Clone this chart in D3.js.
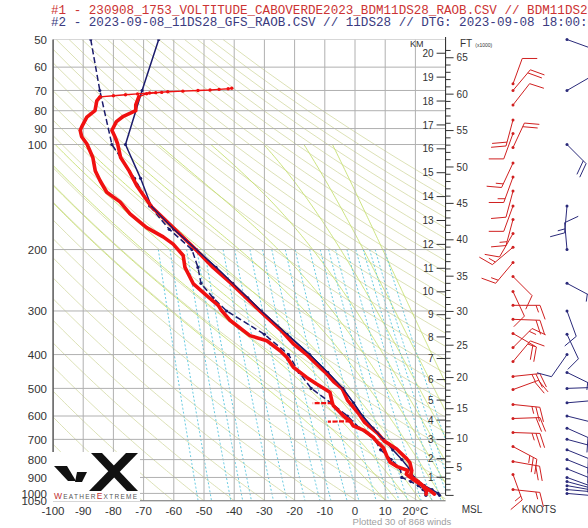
<!DOCTYPE html>
<html lang="en">
<head>
<meta charset="UTF-8">
<title>Sounding</title>
<script src="https://cdnjs.cloudflare.com/ajax/libs/d3/7.8.5/d3.min.js"></script>
<style>
  body { margin: 0; background: #fff; }
  svg text { font-family: "Liberation Sans", Arial, sans-serif; }
</style>
</head>
<body>
<div id="chart"></div>
<script>
// ---- axis values
const pressureTicks = [50, 60, 70, 80, 90, 100, 200, 300, 400, 500, 600, 700, 800, 900, 1000, 1050];
const tempTicks = [-100, -90, -80, -70, -60, -50, -40, -30, -20, -10, 0, 10, 20];
const kmTicks = d3.range(1, 21);
const ftTicks = [5, 10, 15, 20, 25, 30, 35, 40, 45, 50, 55, 60, 65];

// ---- background line families
const dryThetas = d3.range(170, 550, 10);          // K
const moistThetaW = d3.range(8, 52, 4);            // deg C at 1000 hPa
const mixRatios = [0.03, 0.05, 0.1, 0.15, 0.2, 0.4, 0.6, 1, 1.5, 2, 3, 4, 6, 8, 10, 12, 16, 20, 24, 28, 32, 40];

// ---- sounding #1 (observed), [hPa, degC]
const obsTemp = [[1005, 26.3], [990, 25.4], [952, 22.6], [918, 20.4], [898, 18.8], [880, 18.5], [860, 18.8],
  [818, 18.2], [795, 17.1], [762, 14.9], [746, 13.8], [707, 9.6], [674, 7.6], [626, 3.2], [590, 1.2],
  [567, -0.5], [540, -2.5], [502, -4.2], [478, -7.1], [450, -9.8], [420, -13.5], [400, -16], [372, -20.5],
  [341, -24.5], [300, -31.5], [270, -37], [250, -41], [225, -47], [197, -53.5], [173, -60.2], [151, -67.3],
  [140, -70], [131, -72.3], [119, -74.8], [109, -77.6], [99.5, -78.6], [95, -79.5], [91, -80.5], [86, -79],
  [83, -76.7], [80, -72.6], [77, -72.6], [73, -71.6]];
const obsTempTail = [[73, -71.6], [71.5, -69], [71, -66], [70.6, -62], [70.3, -57], [70, -52], [69.8, -48],
  [69.5, -45], [69.2, -42], [69, -40.8]];
const obsDew = [[1005, 23.5], [985, 23.7], [950, 22.3], [939, 21.5], [915, 19.5], [898, 18.2], [880, 17],
  [860, 17.5], [838, 14], [814, 11.6], [780, 10.5], [740, 9.4], [707, 7], [690, 6], [660, 3], [640, -0.6],
  [622, -1.5], [599, -3.9], [560, -7.2], [550, -7.5],
  [513, -8.3], [486, -12.7], [465, -16], [435, -20.4], [407, -22.6], [390, -24.8], [365, -29.2],
  [353, -34.8], [319, -41.4], [299, -44.2], [289, -45.3], [271, -49.1], [251, -53.5], [225, -56.3],
  [208, -56.9], [193, -60.2], [184, -63.5], [173, -69], [158, -74.5], [146, -77.8], [137, -82.2],
  [127, -84.4], [119, -86], [109, -86.8], [99.5, -88.8], [95, -90.5], [91, -91], [89, -90.5],
  [83.5, -88.8], [80, -86.1], [75, -85.5], [73, -84.4]];
const obsDewTail = [[73, -84.4], [72.5, -80], [72, -76], [71.6, -72], [71.2, -68], [70.9, -64]];
const obsDewSpikes = [[[551, -7.4], [551, -10], [551.5, -14]], [[622, -1.5], [622, -5], [622.5, -9]]];

// ---- sounding #2 (GFS)
const gfsLevels = [50, 70, 100, 125, 150, 175, 200, 225, 250, 275, 300, 350, 400, 450, 500, 550, 600, 650,
  700, 750, 800, 850, 900, 925, 950, 975, 1000, 1013];
const gfsTemp = [-65, -70.5, -76, -71, -67.5, -60, -52.5, -46, -40.5, -35.5, -31, -22.5, -15, -9, -4, -0.5,
  2.5, 6, 9.5, 12.5, 15.5, 18, 19.5, 21, 23, 25.5, 27.5, 28];
const gfsDew = [-87.5, -84.5, -80.5, -73, -68, -61.5, -54, -52, -51, -47, -42.5, -30, -22, -18.5, -14.5,
  -8, -2.5, 1.5, 6.5, 8.5, 12, 15, 15.5, 18.5, 21, 22.5, 23.5, 23.5];

// ---- winds
const obsWindP = [67, 70, 77, 85, 93, 102, 113, 124, 136, 150, 164, 180, 197, 218, 239, 264, 289, 317, 348,
  382, 419, 462, 504, 556, 610, 669, 734, 810, 883, 975];
const obsWindDir = [20, 40, 38, 195, 200, 25, 205, 200, 195, 200, 195, 210, 230, 220, 135, 155, 90, 92, 120,
  45, 40, 84, 70, 96, 88, 92, 118, 100, 160, 96];
const obsWindSpd = [10, 20, 10, 20, 10, 20, 15, 15, 10, 10, 15, 10, 15, 15, 10, 10, 15, 20, 20, 15, 15, 25,
  20, 25, 20, 25, 25, 20, 15, 15];
const gfsWindP = [50, 70, 100, 150, 200, 250, 300, 350, 400, 450, 500, 550, 600, 650, 700, 750, 800, 850,
  900, 925, 950, 975, 1000];
const gfsWindDir = [110, 60, 135, 185, 355, 118, 160, 155, 215, 116, 88, 85, 104, 114, 105, 112, 112, 112,
  110, 105, 100, 95, 95];
const gfsWindSpd = [10, 10, 20, 15, 10, 15, 10, 10, 10, 15, 15, 15, 20, 20, 20, 20, 20, 20, 20, 20, 15, 15, 15];

const RED = "#f01010", NAVY = "#1c1c6c";

const svg = d3.select("#chart").append("svg")
  .attr("width", 588).attr("height", 528);
svg.append("rect").attr("width", 588).attr("height", 528).attr("fill", "#fff");

const x = d3.scaleLinear().domain([-100, 30]).range([53, 445.6]);
const y = d3.scaleLog().domain([50, 1050]).range([39.5, 500.8]);

svg.append("clipPath").attr("id", "plot")
  .append("rect").attr("x", 53).attr("y", 39.5).attr("width", 392.6).attr("height", 461.3);

const plot = svg.append("g").attr("clip-path", "url(#plot)");
const line = d3.line().x(d => x(d[1])).y(d => y(d[0]));

// dry adiabats
const pGrid = d3.range(50, 1051, 10);
plot.append("g").selectAll("path").data(dryThetas).join("path")
  .attr("d", th => line(pGrid.map(p => [p, th * Math.pow(p / 1000, 0.2857) - 273.15])))
  .attr("fill", "none").attr("stroke", "#d3d9a3").attr("stroke-width", 0.8);

// moist adiabats
function moistRate(p, T) {
  const tc = T - 273.15;
  const es = 6.112 * Math.exp(17.67 * tc / (tc + 243.5));
  const rs = 0.622 * es / (p - es);
  const Lv = 2.501e6, Rd = 287.04, cp = 1005.7;
  return (Rd * T + Lv * rs) / (p * (cp + Lv * Lv * rs * 0.622 / (Rd * T * T)));
}
function moistPath(tw) {
  const pts = [];
  let T = tw + 273.15;
  for (let p = 1000; p >= 100; p -= 2) {
    pts.push([p, T - 273.15]);
    const k1 = moistRate(p, T);
    const k2 = moistRate(p - 1, T - k1);
    T -= 2 * k2;
    if (T < 170) break;
  }
  T = tw + 273.15;
  const low = [];
  for (let p = 1000; p <= 1050; p += 2) {
    low.push([p, T - 273.15]);
    T += 2 * moistRate(p + 1, T);
  }
  return low.reverse().concat(pts.slice(1));
}
plot.append("g").selectAll("path").data(moistThetaW).join("path")
  .attr("d", tw => line(moistPath(tw)))
  .attr("fill", "none").attr("stroke", "#c6e070").attr("stroke-width", 0.9);

// mixing ratio lines
const pMix = d3.range(200, 1051, 10);
function dewFromMix(w, p) {
  const e = (w / 1000) * p / (0.622 + w / 1000);
  const l = Math.log(e / 6.112);
  return 243.5 * l / (17.67 - l);
}
plot.append("g").selectAll("path").data(mixRatios).join("path")
  .attr("d", w => line(pMix.map(p => [p, dewFromMix(w, p)])))
  .attr("fill", "none").attr("stroke", "#55c4dc").attr("stroke-width", 0.9)
  .attr("stroke-dasharray", "2,2");

// isotherms and isobars
plot.append("g").selectAll("line").data(tempTicks.concat([-100])).join("line")
  .attr("x1", d => x(d)).attr("x2", d => x(d))
  .attr("y1", y(50)).attr("y2", y(1050))
  .attr("stroke", "#b0b0b0").attr("stroke-width", 1);
plot.append("g").selectAll("line").data(pressureTicks).join("line")
  .attr("x1", x(-100)).attr("x2", x(30))
  .attr("y1", d => y(d)).attr("y2", d => y(d))
  .attr("stroke", "#b0b0b0").attr("stroke-width", 1);

// GFS profile
const gfsT = gfsLevels.map((p, i) => [p, gfsTemp[i]]);
const gfsD = gfsLevels.map((p, i) => [p, gfsDew[i]]);
plot.append("path").attr("d", line(gfsD)).attr("fill", "none")
  .attr("stroke", NAVY).attr("stroke-width", 1.5).attr("stroke-dasharray", "6,3");
plot.append("path").attr("d", line(gfsT)).attr("fill", "none")
  .attr("stroke", NAVY).attr("stroke-width", 1.5);
plot.append("g").selectAll("circle").data(gfsT.concat(gfsD)).join("circle")
  .attr("cx", d => x(d[1])).attr("cy", d => y(d[0])).attr("r", 1.6).attr("fill", NAVY);

// observed profile
[obsDew, obsTemp].forEach(s => {
  plot.append("path").attr("d", line(s)).attr("fill", "none")
    .attr("stroke", RED).attr("stroke-width", 3.6)
    .attr("stroke-linejoin", "round").attr("stroke-linecap", "round");
});
obsDewSpikes.forEach(s => {
  plot.append("path").attr("d", line(s)).attr("fill", "none")
    .attr("stroke", RED).attr("stroke-width", 2.2).attr("stroke-dasharray", "5,1.5");
});
[obsDewTail, obsTempTail].forEach(s => {
  plot.append("path").attr("d", line(s)).attr("fill", "none")
    .attr("stroke", RED).attr("stroke-width", 1.4);
  plot.append("g").selectAll("circle").data(s).join("circle")
    .attr("cx", d => x(d[1])).attr("cy", d => y(d[0])).attr("r", 1.7).attr("fill", RED);
});

// GFS line over the observed temperature
plot.append("path").attr("d", line(gfsT.filter(d => d[0] >= 150 && d[0] <= 700))).attr("fill", "none")
  .attr("stroke", NAVY).attr("stroke-width", 1.3);

// left axis
svg.append("line").attr("x1", 53).attr("x2", 53).attr("y1", y(50)).attr("y2", 452)
  .attr("stroke", "#222").attr("stroke-width", 1);
svg.append("line").attr("x1", 53).attr("x2", x(30)).attr("y1", y(1050)).attr("y2", y(1050))
  .attr("stroke", "#777").attr("stroke-width", 1);
svg.append("g").selectAll("text").data(pressureTicks).join("text")
  .attr("x", 47).attr("y", d => y(d)).attr("dy", "0.36em")
  .attr("text-anchor", "end").attr("font-size", 11.5).attr("fill", "#333")
  .text(d => d);
svg.append("g").selectAll("text").data(tempTicks).join("text")
  .attr("x", d => x(d)).attr("y", 515)
  .attr("text-anchor", "middle").attr("font-size", 11.5).attr("fill", "#333")
  .text(d => d === 20 ? "20°C" : d);

// height axis (standard atmosphere)
function pAtHeight(m) {
  if (m <= 11000) return 1013.25 * Math.pow(1 - 0.0065 * m / 288.15, 5.25588);
  if (m <= 20000) return 226.32 * Math.exp(-(m - 11000) / 6341.6);
  return 54.75 * Math.pow(1 + 0.001 * (m - 20000) / 216.65, -34.163);
}
const axX = x(30);
svg.append("line").attr("x1", axX).attr("x2", axX).attr("y1", 37).attr("y2", y(pAtHeight(0)))
  .attr("stroke", "#222");
const kmG = svg.append("g");
kmG.selectAll("line").data(kmTicks).join("line")
  .attr("x1", axX - 9).attr("x2", axX).attr("y1", d => y(pAtHeight(d * 1000))).attr("y2", d => y(pAtHeight(d * 1000)))
  .attr("stroke", "#333");
kmG.selectAll("text").data(kmTicks).join("text")
  .attr("x", axX - 12).attr("y", d => y(pAtHeight(d * 1000))).attr("dy", "0.36em")
  .attr("text-anchor", "end").attr("font-size", 10).attr("fill", "#333").text(d => d);
const ftG = svg.append("g");
ftG.selectAll("line").data(d3.range(0, 67)).join("line")
  .attr("x1", axX).attr("x2", d => axX + (d % 5 === 0 ? 8 : 5))
  .attr("y1", d => y(pAtHeight(d * 304.8))).attr("y2", d => y(pAtHeight(d * 304.8)))
  .attr("stroke", "#333");
ftG.selectAll("text").data(ftTicks).join("text")
  .attr("x", axX + 11).attr("y", d => y(pAtHeight(d * 304.8))).attr("dy", "0.36em")
  .attr("font-size", 10).attr("fill", "#333").text(d => d);
svg.append("text").attr("x", 410).attr("y", 47).attr("font-size", 9).attr("fill", "#333").text("KM");
svg.append("text").attr("x", 460).attr("y", 47).attr("font-size", 10).attr("fill", "#333")
  .text("FT").append("tspan").attr("font-size", 5).attr("dx", 3).text("(x1000)");
svg.append("text").attr("x", 472).attr("y", 513).attr("text-anchor", "middle")
  .attr("font-size", 10).attr("fill", "#333").text("MSL");
svg.append("text").attr("x", 539).attr("y", 513).attr("text-anchor", "middle")
  .attr("font-size", 10).attr("fill", "#333").text("KNOTS");
svg.append("text").attr("x", 402).attr("y", 525).attr("text-anchor", "middle")
  .attr("font-size", 9.5).attr("fill", "#a0a0a0").text("Plotted 30 of 868 winds");

// wind barbs
function barb(g, x0, y0, dir, spd, color) {
  const L = 27, a = 70 * Math.PI / 180;
  const r = dir * Math.PI / 180;
  const ux = Math.sin(r), uy = -Math.cos(r);
  const fx = ux * Math.cos(a) - uy * Math.sin(a), fy = ux * Math.sin(a) + uy * Math.cos(a);
  let d = `M${x0},${y0}L${x0 + L * ux},${y0 + L * uy}`;
  let s = Math.round(spd / 5) * 5, pos = L;
  while (s >= 10) {
    const bx = x0 + pos * ux, by = y0 + pos * uy;
    d += `M${bx},${by}l${15 * fx},${15 * fy}`;
    s -= 10; pos -= 4;
  }
  if (s >= 5) {
    if (pos === L) pos -= 4;
    const bx = x0 + pos * ux, by = y0 + pos * uy;
    d += `M${bx},${by}l${7.5 * fx},${7.5 * fy}`;
  }
  g.append("path").attr("d", d).attr("fill", "none").attr("stroke", color).attr("stroke-width", 1);
  g.append("circle").attr("cx", x0).attr("cy", y0).attr("r", 1.5).attr("fill", color);
}
const windG = svg.append("g");
obsWindP.forEach((p, i) => barb(windG, 513, y(p), obsWindDir[i], obsWindSpd[i], "#d02020"));
gfsWindP.forEach((p, i) => barb(windG, 567, y(p), gfsWindDir[i], gfsWindSpd[i], "#2a2a7a"));

// titles
const mono = "'Liberation Mono', 'Courier New', monospace";
svg.append("text").attr("x", 51).attr("y", 14).attr("font-size", 12.6).style("font-family", mono)
  .attr("fill", "#cc3333").text("#1 - 230908_1753_VOLTITUDE_CABOVERDE2023_BDM11DS28_RAOB.CSV // BDM11DS28");
svg.append("text").attr("x", 51).attr("y", 26).attr("font-size", 12.6).style("font-family", mono)
  .attr("fill", "#3a3a80").text("#2 - 2023-09-08_11DS28_GFS_RAOB.CSV // 11DS28 // DTG: 2023-09-08 18:00:00Z");

// logo
const logo = svg.append("g").attr("transform", "translate(53,452)");
logo.append("rect").attr("width", 87).attr("height", 49).attr("fill", "#fff");
const shapes = ["M1,14L14,14L23,29L15,29Z", "M24,20L34,20L29,30L22,30Z",
  "M38,1L49,1L85,39L74,39Z", "M73,1L85,1L48,39L36,39Z"];
logo.selectAll("path").data(shapes).join("path").attr("d", d => d).attr("fill", "#111");
const lt = logo.append("text").attr("x", 1).attr("y", 47).attr("textLength", 83)
  .attr("font-size", 6.5).attr("fill", "#555");
lt.append("tspan").attr("fill", "#c03030").attr("font-size", 8.5).text("W");
lt.append("tspan").text("EATHER");
lt.append("tspan").attr("fill", "#c03030").attr("font-size", 8.5).text("E");
lt.append("tspan").text("XTREME");
</script>
</body>
</html>
